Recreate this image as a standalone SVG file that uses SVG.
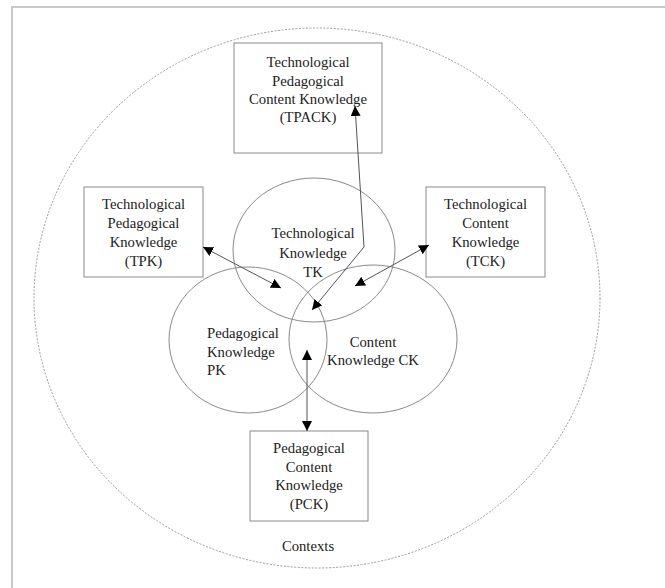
<svg xmlns="http://www.w3.org/2000/svg" width="665" height="588" viewBox="0 0 665 588">
<defs>
<style>
.frame{fill:none;stroke:#c8c8c8;stroke-width:2}
.ctx{fill:none;stroke:#9a9a9a;stroke-width:1;stroke-dasharray:2,1.5}
.circ{fill:none;stroke:#8a8a8a;stroke-width:1}
.box{fill:#fff;stroke:#8a8a8a;stroke-width:1}
.t{font-family:"Liberation Serif","Times New Roman",serif;font-size:14.7px;fill:#222}
.c{text-anchor:middle}
.con{fill:none;stroke:#555;stroke-width:1;marker-start:url(#ah);marker-end:url(#ah)}
</style>
<marker id="ah" viewBox="0 0 10 10" refX="10" refY="5" markerWidth="10" markerHeight="10" markerUnits="userSpaceOnUse" orient="auto-start-reverse">
<path d="M0,0 L10,5 L0,10 Z" fill="#000"/>
</marker>
</defs>
<rect class="frame" x="12" y="7" width="700" height="600"/>
<g id="contexts">
<ellipse class="ctx" cx="317" cy="298" rx="283" ry="270"/>
<text class="t c" x="308" y="551">Contexts</text>
</g>
<g id="tk">
<ellipse class="circ" cx="314" cy="250" rx="81" ry="72"/>
<text class="t c" x="313" y="238">Technological</text>
<text class="t c" x="313" y="258">Knowledge</text>
<text class="t c" x="313" y="277">TK</text>
</g>
<g id="pk">
<ellipse class="circ" cx="248" cy="340" rx="79" ry="73"/>
<text class="t" x="207" y="338">Pedagogical</text>
<text class="t" x="207" y="357">Knowledge</text>
<text class="t" x="207" y="375">PK</text>
</g>
<g id="ck">
<ellipse class="circ" cx="373" cy="339" rx="84" ry="74"/>
<text class="t c" x="373" y="347">Content</text>
<text class="t c" x="373" y="365">Knowledge CK</text>
</g>
<g id="tpack">
<rect class="box" x="234" y="43" width="148" height="110"/>
<text class="t c" x="308" y="67">Technological</text>
<text class="t c" x="308" y="86">Pedagogical</text>
<text class="t c" x="308" y="104">Content Knowledge</text>
<text class="t c" x="308" y="122">(TPACK)</text>
</g>
<g id="tpk">
<rect class="box" x="84" y="187" width="119" height="90"/>
<text class="t c" x="143.5" y="209">Technological</text>
<text class="t c" x="143.5" y="228">Pedagogical</text>
<text class="t c" x="143.5" y="247">Knowledge</text>
<text class="t c" x="143.5" y="266">(TPK)</text>
</g>
<g id="tck">
<rect class="box" x="426" y="187" width="119" height="90"/>
<text class="t c" x="485.5" y="209">Technological</text>
<text class="t c" x="485.5" y="228">Content</text>
<text class="t c" x="485.5" y="247">Knowledge</text>
<text class="t c" x="485.5" y="266">(TCK)</text>
</g>
<g id="pck">
<rect class="box" x="250" y="431" width="118" height="90"/>
<text class="t c" x="309" y="453">Pedagogical</text>
<text class="t c" x="309" y="472">Content</text>
<text class="t c" x="309" y="490">Knowledge</text>
<text class="t c" x="309" y="509">(PCK)</text>
</g>
<g id="connectors">
<polyline class="con" points="355,106 364,247 312,310"/>
<line class="con" x1="203" y1="247" x2="281" y2="288"/>
<line class="con" x1="429" y1="245" x2="355" y2="286"/>
<line class="con" x1="307" y1="350" x2="307" y2="431"/>
</g>
</svg>
